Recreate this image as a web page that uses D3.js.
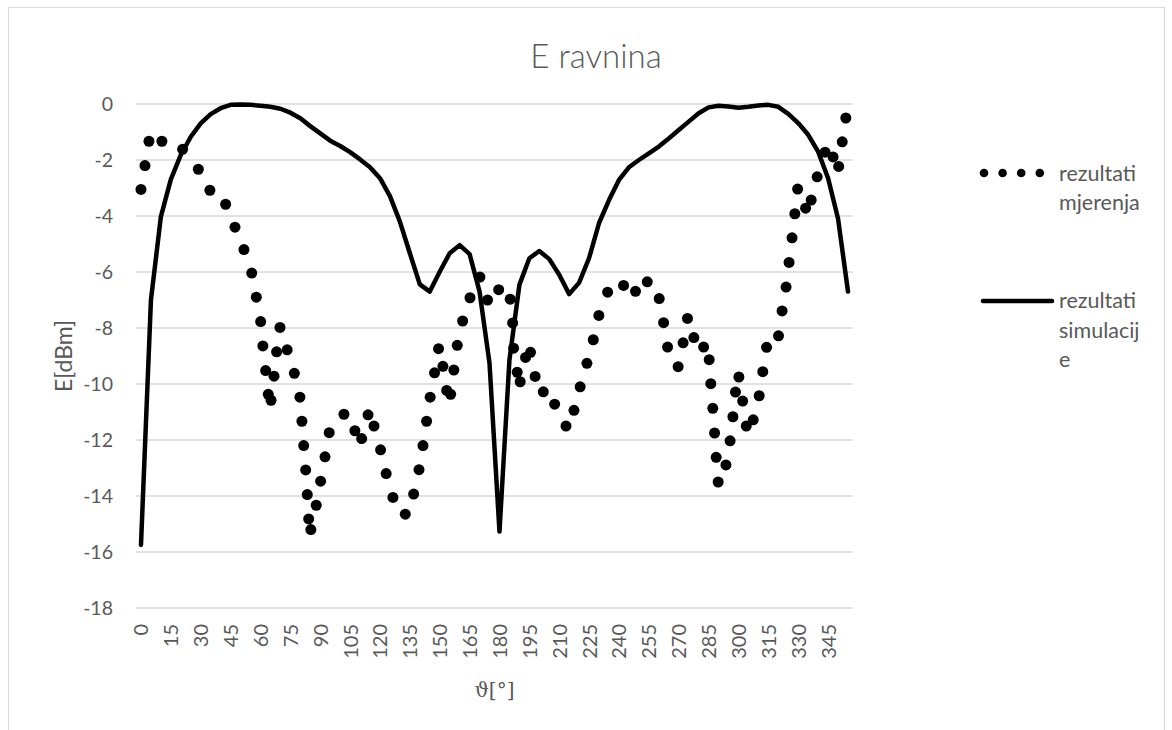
<!DOCTYPE html>
<html>
<head>
<meta charset="utf-8">
<script src="https://d3js.org/d3.v7.min.js"></script>
<style>
  body { margin: 0; background: #fff; }
  text { font-family: Lato, "Open Sans", sans-serif; fill: #595959; }
</style>
</head>
<body>
<script>

// simulated pattern, one value every 5 degrees (0..355)
var simAngles = d3.range(0, 360, 5);
var simValues = [
  -15.75, -7.0, -4.02, -2.69, -1.82, -1.17, -0.69, -0.36, -0.15, -0.03,
  -0.02, -0.03, -0.06, -0.1, -0.17, -0.31, -0.51, -0.79, -1.05, -1.31,
  -1.5, -1.72, -1.98, -2.26, -2.65, -3.29, -4.2, -5.33, -6.44, -6.7,
  -5.99, -5.33, -5.04, -5.36, -6.7, -9.26, -15.27, -9.14, -6.46, -5.51,
  -5.25, -5.54, -6.1, -6.79, -6.38, -5.5, -4.25, -3.43, -2.71, -2.26,
  -2.0, -1.76, -1.52, -1.23, -0.93, -0.63, -0.33, -0.12, -0.06, -0.09,
  -0.13, -0.1, -0.05, -0.03, -0.1, -0.35, -0.68, -1.1, -1.7, -2.65,
  -4.1, -6.7
];

// measured points (angle in degrees, level in dBm)
var measAngles = [
  0, 2.0, 4.0, 10.5, 20.9, 28.8, 34.6, 42.5, 47.2, 51.7,
  55.6, 57.9, 60.1, 61.2, 62.6, 63.9, 65.3, 66.8, 68.1, 69.8,
  73.4, 77.0, 79.8, 80.8, 81.7, 82.7, 83.5, 84.2, 85.3, 88.0,
  90.2, 92.4, 94.5, 101.9, 107.4, 110.8, 114.0, 117.0, 120.3, 123.1,
  126.5, 132.7, 136.9, 139.6, 141.6, 143.4, 145.2, 147.4, 149.4, 151.6,
  153.5, 155.5, 157.1, 158.8, 161.5, 165.2, 170.2, 174.0, 179.6, 185.4,
  186.6, 187.1, 188.9, 190.4, 193.1, 195.6, 197.9, 202.0, 207.7, 213.4,
  217.4, 220.5, 223.9, 227.1, 229.9, 234.3, 242.3, 248.3, 254.2, 260.2,
  262.4, 264.4, 269.7, 272.2, 274.4, 277.6, 282.5, 285.3, 286.1, 287.1,
  288.0, 288.8, 289.8, 293.7, 295.8, 297.2, 298.5, 300.2, 302.1, 303.9,
  307.4, 310.4, 312.2, 314.1, 320.1, 321.9, 323.9, 325.4, 326.9, 328.3,
  329.7, 333.7, 336.5, 339.5, 343.5, 347.5, 350.3, 352.1, 353.9
];
var measValues = [
  -3.05, -2.2, -1.33, -1.33, -1.62, -2.33, -3.08, -3.58, -4.4, -5.2,
  -6.04, -6.9, -7.77, -8.64, -9.52, -10.37, -10.58, -9.72, -8.85, -7.98,
  -8.78, -9.62, -10.47, -11.33, -12.2, -13.07, -13.95, -14.82, -15.2, -14.33,
  -13.47, -12.6, -11.74, -11.08, -11.67, -11.95, -11.1, -11.5, -12.35, -13.2,
  -14.05, -14.65, -13.93, -13.06, -12.2, -11.33, -10.47, -9.6, -8.74, -9.37,
  -10.23, -10.37, -9.5, -8.62, -7.75, -6.92, -6.18, -7.0, -6.63, -6.97,
  -7.82, -8.72, -9.58, -9.92, -9.05, -8.87, -9.73, -10.28, -10.72, -11.5,
  -10.94, -10.1, -9.26, -8.42, -7.55, -6.72, -6.48, -6.69, -6.35, -6.95,
  -7.81, -8.68, -9.38, -8.53, -7.66, -8.34, -8.68, -9.13, -9.99, -10.87,
  -11.75, -12.62, -13.5, -12.89, -12.03, -11.17, -10.29, -9.75, -10.61, -11.5,
  -11.28, -10.42, -9.56, -8.69, -8.28, -7.39, -6.54, -5.66, -4.78, -3.92,
  -3.04, -3.72, -3.43, -2.6, -1.72, -1.89, -2.23, -1.35, -0.5
];

var xTickLabels = [0, 15, 30, 45, 60, 75, 90, 105, 120, 135, 150, 165,
                   180, 195, 210, 225, 240, 255, 270, 285, 300, 315, 330, 345];
var yTickLabels = [0, -2, -4, -6, -8, -10, -12, -14, -16, -18];

var W = 1172, H = 730;
var plot = {left: 136, right: 853, top: 104, bottom: 608};

var svg = d3.select("body").append("svg")
    .attr("width", W)
    .attr("height", H);

// chart area frame
svg.append("rect")
    .attr("x", 8.5).attr("y", 7.5)
    .attr("width", 1156).attr("height", 760)
    .attr("fill", "#fff")
    .attr("stroke", "#d9d9d9")
    .attr("stroke-width", 1);

var x = d3.scaleLinear().domain([-2.5, 357.5]).range([plot.left, plot.right]);
var y = d3.scaleLinear().domain([-18, 0]).range([plot.bottom, plot.top]);

// plain hyphen minus like the original, not the unicode minus
var plainFmt = function(d) { return String(d); };

// horizontal gridlines
svg.append("g")
  .selectAll("line")
  .data(yTickLabels)
  .enter().append("line")
    .attr("x1", plot.left).attr("x2", plot.right)
    .attr("y1", function(d) { return y(d); })
    .attr("y2", function(d) { return y(d); })
    .attr("stroke", "#d9d9d9")
    .attr("stroke-width", 1.5);

// y axis
var yAxis = svg.append("g")
    .attr("transform", "translate(" + plot.left + ",0)")
    .call(d3.axisLeft(y).tickValues(yTickLabels).tickSize(0).tickPadding(23).tickFormat(plainFmt));
yAxis.select(".domain").remove();
yAxis.selectAll("text")
    .style("font-family", "Lato, sans-serif")
    .style("font-size", "19.5px")
    .attr("fill", "#595959");

// x axis with rotated labels
var xAxis = svg.append("g")
    .attr("transform", "translate(0," + plot.bottom + ")")
    .call(d3.axisBottom(x).tickValues(xTickLabels).tickSize(0).tickFormat(plainFmt));
xAxis.select(".domain").remove();
xAxis.selectAll("text")
    .attr("transform", "rotate(-90)")
    .attr("x", -16)
    .attr("y", 0)
    .attr("dy", "0.35em")
    .style("text-anchor", "end")
    .style("font-family", "Lato, sans-serif")
    .style("font-size", "20px")
    .attr("fill", "#595959");

// simulation line
var simData = simAngles.map(function(a, i) { return {a: a, v: simValues[i]}; });
var line = d3.line()
    .x(function(d) { return x(d.a); })
    .y(function(d) { return y(d.v); });

svg.append("path")
    .datum(simData)
    .attr("fill", "none")
    .attr("stroke", "#000")
    .attr("stroke-width", 4.5)
    .attr("stroke-linejoin", "round")
    .attr("stroke-linecap", "round")
    .attr("d", line);

// measured points
var measData = measAngles.map(function(a, i) { return {a: a, v: measValues[i]}; });
svg.append("g")
  .selectAll("circle")
  .data(measData)
  .enter().append("circle")
    .attr("cx", function(d) { return x(d.a); })
    .attr("cy", function(d) { return y(d.v); })
    .attr("r", 5.5)
    .attr("fill", "#000");

// title
svg.append("text")
    .attr("x", 596)
    .attr("y", 68)
    .style("text-anchor", "middle")
    .style("font-size", "33px")
    .style("font-weight", 300)
    .text("E ravnina");

// axis titles
svg.append("text")
    .attr("transform", "translate(72," + ((plot.top + plot.bottom) / 2) + ") rotate(-90)")
    .style("text-anchor", "middle")
    .style("font-size", "23px")
    .text("E[dBm]");

svg.append("text")
    .attr("x", (plot.left + plot.right) / 2)
    .attr("y", 697)
    .style("text-anchor", "middle")
    .style("font-family", "'DejaVu Serif', serif")
    .style("font-size", "20px")
    .text("\u03D1[\u00B0]");

// legend
var leg = svg.append("g");
leg.selectAll("circle")
    .data([0, 1, 2, 3])
  .enter().append("circle")
    .attr("cx", function(d) { return 984 + d * 18.6; })
    .attr("cy", 173)
    .attr("r", 4.3)
    .attr("fill", "#000");

leg.append("line")
    .attr("x1", 983).attr("x2", 1052)
    .attr("y1", 301).attr("y2", 301)
    .attr("stroke", "#000")
    .attr("stroke-width", 4.5)
    .attr("stroke-linecap", "round");

var legText1 = leg.append("text").attr("x", 1059).attr("y", 181).style("font-size", "21.5px");
legText1.append("tspan").attr("x", 1059).text("rezultati");
legText1.append("tspan").attr("x", 1059).attr("dy", 29).text("mjerenja");

var legText2 = leg.append("text").attr("x", 1059).attr("y", 308).style("font-size", "21.5px");
legText2.append("tspan").attr("x", 1059).text("rezultati");
legText2.append("tspan").attr("x", 1059).attr("dy", 29.5).text("simulacij");
legText2.append("tspan").attr("x", 1059).attr("dy", 29.5).text("e");

</script>
</body>
</html>
